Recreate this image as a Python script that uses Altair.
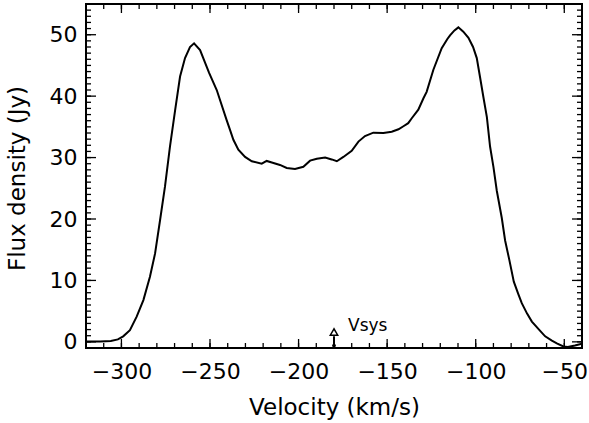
import altair as alt
import pandas as pd

# Spectrum (velocity in km/s, flux density in Jy)
velocity = [-320, -312, -306, -302, -299, -295.2, -291.4, -287.6, -283.9, -281.0,
            -278.2, -275.4, -272.6, -269.7, -266.9, -264.1, -261.3, -259, -255.6,
            -250.5, -246.2, -240.6, -238.7, -236.8, -234.0, -230.2, -226.4, -220.8,
            -218.0, -215.1, -210.5, -206.7, -202.0, -197.3, -193.5, -189.7, -185.0,
            -181.3, -178.4, -174.7, -170.0, -166.2, -162.5, -157.8, -152.1, -147.4,
            -143.6, -140.8, -138.1, -136.1, -132.4, -129.5, -127.7, -123.9, -119.2,
            -116, -114.5, -112, -109.8, -107.0, -104.1, -101.5, -99.4, -97.5, -95.7,
            -93.7, -91.9, -90, -88.1, -85.3, -83.4, -81.0, -78.5, -76, -74.0, -71,
            -68.3, -64, -60.8, -57, -54.2, -50.5, -48, -44, -40]
flux = [0.05, 0.05, 0.15, 0.4, 0.9, 1.9, 4.1, 6.8, 10.6, 14.4,
        19.8, 25.3, 31.8, 37.7, 43.2, 46.2, 48.0, 48.6, 47.5,
        43.8, 41.0, 36.1, 34.5, 32.9, 31.3, 30.1, 29.4, 29.0,
        29.45, 29.2, 28.8, 28.3, 28.15, 28.5, 29.5, 29.8, 30.0,
        29.7, 29.4, 30.1, 31.1, 32.6, 33.5, 34.05, 34.0, 34.2,
        34.6, 35.1, 35.6, 36.4, 37.8, 39.65, 40.7, 44.3, 47.8,
        49.3, 49.9, 50.7, 51.2, 50.5, 49.5, 48.0, 46.2, 43.0, 39.9,
        36.6, 31.8, 28.5, 24.6, 20.2, 16.5, 13.3, 9.8, 7.8, 6.3, 4.6,
        3.3, 1.9, 0.9, 0.2, -0.25, -0.75, -0.85, -0.6, -0.3]

# Axis ticks
x_major = [-300, -250, -200, -150, -100, -50]
x_minor = [-320, -310, -300, -290, -280, -270, -260, -250, -240, -230, -220, -210,
           -200, -190, -180, -170, -160, -150, -140, -130, -120, -110, -100, -90,
           -80, -70, -60, -50, -40]
y_major = [0, 10, 20, 30, 40, 50]
y_minor = [-1, 0, 1, 2, 3, 4, 5, 6, 7, 8, 9, 10, 11, 12, 13, 14, 15, 16, 17, 18, 19,
           20, 21, 22, 23, 24, 25, 26, 27, 28, 29, 30, 31, 32, 33, 34, 35, 36, 37,
           38, 39, 40, 41, 42, 43, 44, 45, 46, 47, 48, 49, 50, 51, 52, 53, 54, 55]

# Systemic velocity marker
vsys_velocity = [-180]
vsys_label = ["Vsys"]

W, H = 496, 344
FONT = "DejaVu Sans"

xs = alt.Scale(domain=[-320, -40], nice=False, zero=False)
ys = alt.Scale(domain=[-1, 55], nice=False, zero=False)

df = pd.DataFrame({"v": velocity, "f": flux})

line = alt.Chart(df).mark_line(color="black", strokeWidth=2, clip=True).encode(
    x=alt.X("v:Q", scale=xs, axis=alt.Axis(
        values=x_major, title="Velocity (km/s)", labelPadding=13, titlePadding=14)),
    y=alt.Y("f:Q", scale=ys, axis=alt.Axis(
        values=y_major, title="Flux density (Jy)", labelPadding=9,
        titleX=-69, titleY=174, titleAngle=270, titleBaseline="middle", titleAlign="center")),
)


def xticks(values, length):
    d = pd.DataFrame({"t": values})
    base = alt.Chart(d).mark_rule(color="black", strokeWidth=1.3)
    bottom = base.encode(x=alt.X("t:Q", scale=xs),
                         y=alt.value(H), y2=alt.value(H - length))
    top = base.encode(x=alt.X("t:Q", scale=xs),
                      y=alt.value(0), y2=alt.value(length))
    return [bottom, top]


def yticks(values, length):
    d = pd.DataFrame({"t": values})
    base = alt.Chart(d).mark_rule(color="black", strokeWidth=1.3)
    left = base.encode(y=alt.Y("t:Q", scale=ys),
                       x=alt.value(0), x2=alt.value(length))
    right = base.encode(y=alt.Y("t:Q", scale=ys),
                        x=alt.value(W), x2=alt.value(W - length))
    return [left, right]


vs = pd.DataFrame({"v": vsys_velocity, "label": vsys_label})
vbase = alt.Chart(vs)
v_shaft = vbase.mark_rule(color="black", strokeWidth=2).encode(
    x=alt.X("v:Q", scale=xs),
    y=alt.Y("lo:Q", scale=ys), y2="hi:Q").transform_calculate(lo="-1", hi="0.9")
v_head = vbase.mark_point(shape="triangle-up", filled=False, color="black",
                          strokeWidth=1.5, size=55, opacity=1).encode(
    x=alt.X("v:Q", scale=xs),
    y=alt.Y("p:Q", scale=ys)).transform_calculate(p="1.6")
v_dot = vbase.mark_point(shape="circle", filled=True, color="black",
                         size=14, opacity=1).encode(
    x=alt.X("v:Q", scale=xs),
    y=alt.Y("p:Q", scale=ys)).transform_calculate(p="-0.6")
v_text = vbase.mark_text(align="left", baseline="alphabetic", font=FONT,
                         fontSize=17, color="black", dx=14).encode(
    x=alt.X("v:Q", scale=xs),
    y=alt.Y("p:Q", scale=ys), text="label:N").transform_calculate(p="1.8")

layers = [line] + xticks(x_major, 9) + xticks(x_minor, 5) + yticks(y_major, 10) + \
    yticks(y_minor, 5) + [v_shaft, v_head, v_dot, v_text]

chart = alt.layer(*layers).properties(
    width=W, height=H,
    autosize=alt.AutoSizeParams(type="none"),
    padding={"left": 86, "top": 4, "right": 7, "bottom": 75},
    background="white",
).configure_view(stroke="black", strokeWidth=2).configure_axis(
    tickSize=0, domain=False, grid=False,
    labelFont=FONT, labelFontSize=22, labelColor="black",
    labelFlush=False, labelOverlap=False,
    titleFont=FONT, titleFontSize=23, titleFontWeight="normal", titleColor="black",
)

chart.save("out.html", embed_options={"renderer": "svg", "actions": False})
